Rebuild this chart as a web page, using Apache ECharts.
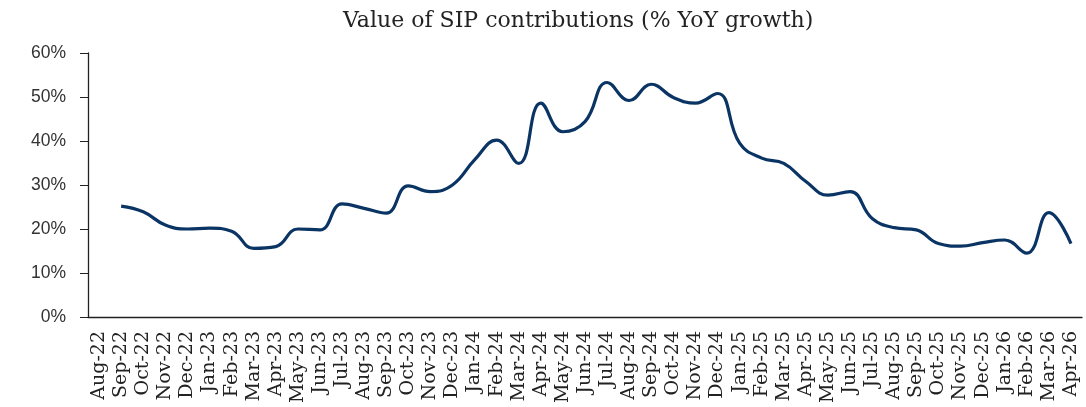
<!DOCTYPE html>
<html>
<head>
<meta charset="utf-8">
<script src="https://cdn.jsdelivr.net/npm/echarts@6/dist/echarts.min.js"></script>
<style>
  html, body { margin: 0; padding: 0; background: #fff; }
  #main { width: 1086px; height: 407px; }
</style>
</head>
<body>
<div id="main"></div>
<script>
var months = ['Aug-22', 'Sep-22', 'Oct-22', 'Nov-22', 'Dec-22',
	'Jan-23', 'Feb-23', 'Mar-23', 'Apr-23', 'May-23', 'Jun-23', 'Jul-23', 'Aug-23', 'Sep-23', 'Oct-23', 'Nov-23', 'Dec-23',
	'Jan-24', 'Feb-24', 'Mar-24', 'Apr-24', 'May-24', 'Jun-24', 'Jul-24', 'Aug-24', 'Sep-24', 'Oct-24', 'Nov-24', 'Dec-24',
	'Jan-25', 'Feb-25', 'Mar-25', 'Apr-25', 'May-25', 'Jun-25', 'Jul-25', 'Aug-25', 'Sep-25', 'Oct-25', 'Nov-25', 'Dec-25',
	'Jan-26', 'Feb-26', 'Mar-26', 'Apr-26'];

// % YoY growth, Aug-22 has no value
var sipGrowth = [null, 25.2, 23.9, 20.9, 20.0,
	20.2, 19.5, 15.6, 16.0, 20.0, 19.8, 25.7, 24.7, 23.6, 29.8, 28.5, 30.0,
	35.7, 40.2, 34.9, 48.6, 42.1, 44.4, 53.3, 49.2, 52.9, 49.9, 48.6, 50.8,
	39.5, 36.1, 34.9, 30.8, 27.7, 28.5, 22.4, 20.3, 19.8, 16.7, 16.1, 16.9,
	17.5, 14.5, 23.7, 16.7];

var yTicks = [0, 10, 20, 30, 40, 50, 60];

var myChart = echarts.init(document.getElementById('main'));

var option = {
	animation: false,
	title: {
		text: 'Value of SIP contributions (% YoY growth)',
		left: 338,
		top: 5,
		textStyle: {
			fontFamily: 'DejaVu Serif',
			fontSize: 22,
			fontWeight: 'normal',
			color: '#222'
		}
	},
	grid: {
		left: 88,
		right: 4,
		top: 53,
		bottom: 90
	},
	xAxis: {
		type: 'category',
		data: months,
		boundaryGap: true,
		axisLine: { lineStyle: { color: '#222', width: 1.3 } },
		axisTick: { show: false },
		axisLabel: {
			interval: 0,
			rotate: 90,
			margin: 14,
			fontFamily: 'DejaVu Serif',
			fontSize: 19,
			color: '#222'
		}
	},
	yAxis: {
		type: 'value',
		min: yTicks[0],
		max: yTicks[yTicks.length - 1],
		interval: 10,
		splitLine: { show: false },
		axisLine: { show: true, lineStyle: { color: '#222', width: 1.3 } },
		axisTick: { show: true, inside: false, length: 8, lineStyle: { color: '#222' } },
		axisLabel: {
			margin: 22,
			fontFamily: 'Liberation Sans',
			fontSize: 17.5,
			color: '#333',
			formatter: '{value}%'
		}
	},
	series: [{
		name: 'SIP contributions',
		type: 'line',
		data: sipGrowth,
		smooth: 0.45,
		showSymbol: false,
		connectNulls: false,
		lineStyle: { color: '#0A3463', width: 3.2 },
		itemStyle: { color: '#0A3463' }
	}]
};
myChart.setOption(option);
</script>
</body>
</html>
